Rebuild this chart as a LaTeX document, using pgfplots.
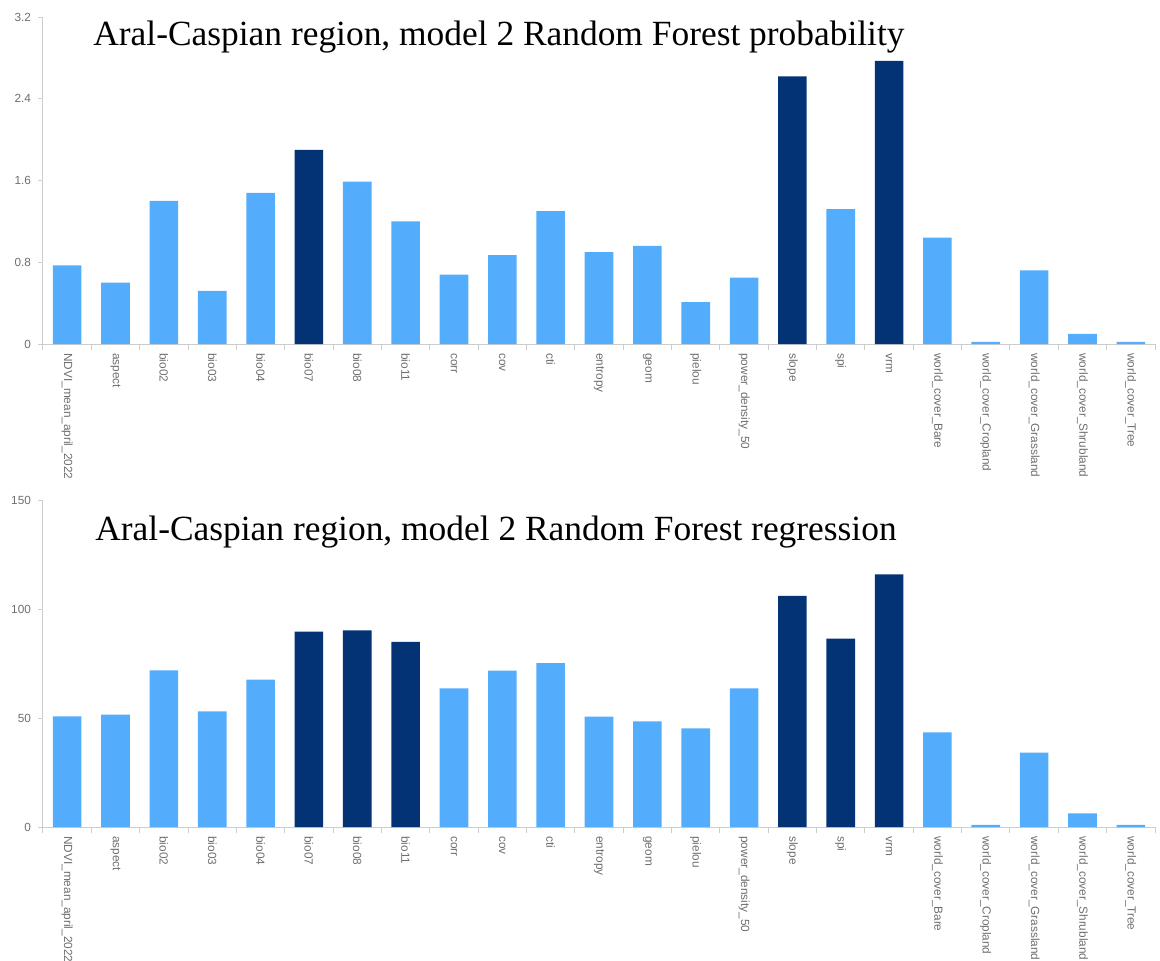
\documentclass[border=0pt]{standalone}
\usepackage{fontspec}
\setmainfont{Liberation Serif}
\newfontfamily\lsans{Liberation Sans}
\usepackage{pgfplots}
\pgfplotsset{compat=1.18}
\definecolor{lightbar}{RGB}{84,172,252}
\definecolor{darkbar}{RGB}{3,51,116}
\definecolor{axgray}{RGB}{205,205,205}
\definecolor{txtgray}{RGB}{110,110,110}

\pgfplotsset{
  rfstyle/.style={
    scale only axis, width=556pt, height=163.5pt,
    xmin=-0.5, xmax=22.5, ymin=0,
    ybar,
    axis x line*=bottom, axis y line*=left,
    axis line style={draw=axgray, line width=0.5pt, -},
    tick align=outside,
    major tick length=2.5pt, minor tick length=3pt,
    xtick={0,...,22},
    major x tick style={draw=none},
    minor xtick={-0.5,0.5,...,22.5},
    minor x tick style={draw=axgray, line width=0.5pt},
    y tick style={draw=axgray, line width=0.5pt},
    xticklabels={NDVI\_mean\_april\_2022, aspect, bio02, bio03, bio04, bio07, bio08, bio11, corr, cov, cti, entropy, geom, pielou, power\_density\_50, slope, spi, vrm, world\_cover\_Bare, world\_cover\_Cropland, world\_cover\_Grassland, world\_cover\_Shrubland, world\_cover\_Tree},
    xticklabel style={rotate=-90, anchor=west, font=\lsans\fontsize{5.9}{6}\selectfont, text=txtgray, inner sep=2pt},
    yticklabel style={font=\lsans\fontsize{5.9}{6}\selectfont, text=txtgray},
    /pgf/number format/assume math mode=true,
    /pgf/number format/fixed,
    bar width=14.3pt,
  }
}

\begin{document}
\begin{tikzpicture}
\path[use as bounding box] (0,0) rectangle (580pt,480pt);

\begin{axis}[rfstyle, at={(21.5pt,308pt)}, anchor=south west,
  ymax=3.2, ytick={0,0.8,1.6,2.4,3.2},
  yticklabels={0,0.8,1.6,2.4,3.2}]
\addplot[fill=lightbar, draw=none, bar shift=0pt] coordinates {
 (0,0.77) (1,0.60) (2,1.40) (3,0.52) (4,1.48) (6,1.59) (7,1.20) (8,0.68)
 (9,0.87) (10,1.30) (11,0.90) (12,0.96) (13,0.41) (14,0.65) (16,1.32)
 (18,1.04) (19,0.02) (20,0.72) (21,0.10) (22,0.02)};
\addplot[fill=darkbar, draw=none, bar shift=0pt] coordinates {
 (5,1.90) (15,2.62) (17,2.77)};
\end{axis}

\begin{axis}[rfstyle, at={(21.5pt,66.5pt)}, anchor=south west,
  ymax=150, ytick={0,50,100,150}]
\addplot[fill=lightbar, draw=none, bar shift=0pt] coordinates {
 (0,50.7) (1,51.5) (2,71.8) (3,53.0) (4,67.6) (8,63.6) (9,71.7) (10,75.2)
 (11,50.6) (12,48.5) (13,45.3) (14,63.6) (18,43.4) (19,1.0) (20,34.1)
 (21,6.3) (22,1.0)};
\addplot[fill=darkbar, draw=none, bar shift=0pt] coordinates {
 (5,89.6) (6,90.2) (7,84.9) (15,106.0) (16,86.4) (17,115.9)};
\end{axis}

\node[anchor=base west, font=\fontsize{17.7}{20}\selectfont, inner sep=0pt] at (46.5pt,457pt) {Aral-Caspian region, model 2 Random Forest probability};
\node[anchor=base west, font=\fontsize{17.7}{20}\selectfont, inner sep=0pt] at (47.5pt,210pt) {Aral-Caspian region, model 2 Random Forest regression};
\end{tikzpicture}
\end{document}
